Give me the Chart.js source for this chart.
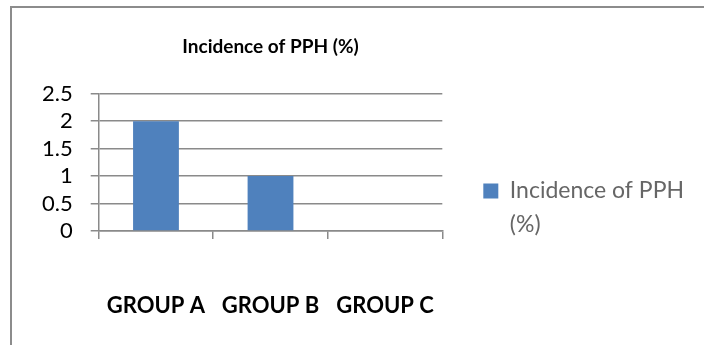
<!DOCTYPE html>
<html>
<head>
<meta charset="utf-8">
<script src="https://cdn.jsdelivr.net/npm/chart.js@4/dist/chart.umd.min.js"></script>
<style>
  html, body { margin: 0; padding: 0; background: #fff; overflow: hidden; }
  #wrap { position: relative; width: 704px; height: 345px; }
  #frame { position: absolute; left: 10px; top: 6px; width: 720px; height: 400px;
           border-top: 2px solid #8c8c8c; border-left: 2px solid #8c8c8c; }
  canvas { position: absolute; left: 0; top: 0; }
</style>
</head>
<body>
<div id="wrap">
  <div id="frame"></div>
  <canvas id="chartCanvas" width="704" height="345"></canvas>
</div>
<script>
var groups = ['GROUP A', 'GROUP B', 'GROUP C'];
var incidence = [2, 1, 0];
var seriesLabel = ['Incidence of PPH', '(%)'];
var chartTitle = 'Incidence of PPH (%)';

var gridColor = '#8a8a8a';
var barColor = '#4f81bd';

var ctx = document.getElementById('chartCanvas').getContext('2d');
new Chart(ctx, {
  type: 'bar',
  data: {
    labels: groups,
    datasets: [{
      label: seriesLabel.join(' '),
      data: incidence,
      backgroundColor: barColor,
      barPercentage: 0.4,
      categoryPercentage: 1.0
    }]
  },
  options: {
    responsive: false,
    animation: false,
    layout: { padding: { left: 24, top: 0, right: 10, bottom: 28 } },
    plugins: {
      title: {
        display: true,
        text: chartTitle,
        fullSize: false,
        color: '#000',
        font: { family: 'Lato', size: 19, weight: 'bold', lineHeight: 1.2 },
        padding: { top: 35, bottom: 36 }
      },
      legend: {
        position: 'right',
        align: 'start',
        maxWidth: 400,
        title: { display: true, text: '', padding: { top: 124, bottom: 0 } },
        labels: {
          color: '#000',
          boxWidth: 15,
          boxHeight: 15,
          padding: 41,
          font: { family: 'Lato', size: 23, lineHeight: 1.45 },
          generateLabels: function (chart) {
            return [{
              text: seriesLabel,
              fillStyle: barColor,
              strokeStyle: barColor,
              lineWidth: 0,
              datasetIndex: 0
            }];
          }
        }
      },
      tooltip: { enabled: false }
    },
    scales: {
      x: {
        grid: { drawOnChartArea: false, color: gridColor, lineWidth: 1.5, tickLength: 8 },
        border: { display: true, color: gridColor, width: 1.5 },
        ticks: { color: '#000', padding: 54, font: { family: 'Lato', size: 22, weight: 'bold' } },
        afterFit: function (scale) { scale.height = 86; }
      },
      y: {
        min: 0,
        max: 2.5,
        ticks: {
          stepSize: 0.5,
          autoSkip: false,
          color: '#000',
          padding: 18,
          font: { family: 'Lato', size: 22 },
          callback: function (v) { return String(v); }
        },
        grid: { color: gridColor, lineWidth: 1.5, tickLength: 8 },
        border: { display: true, color: gridColor, width: 1.5 }
      }
    }
  }
});
</script>
</body>
</html>
